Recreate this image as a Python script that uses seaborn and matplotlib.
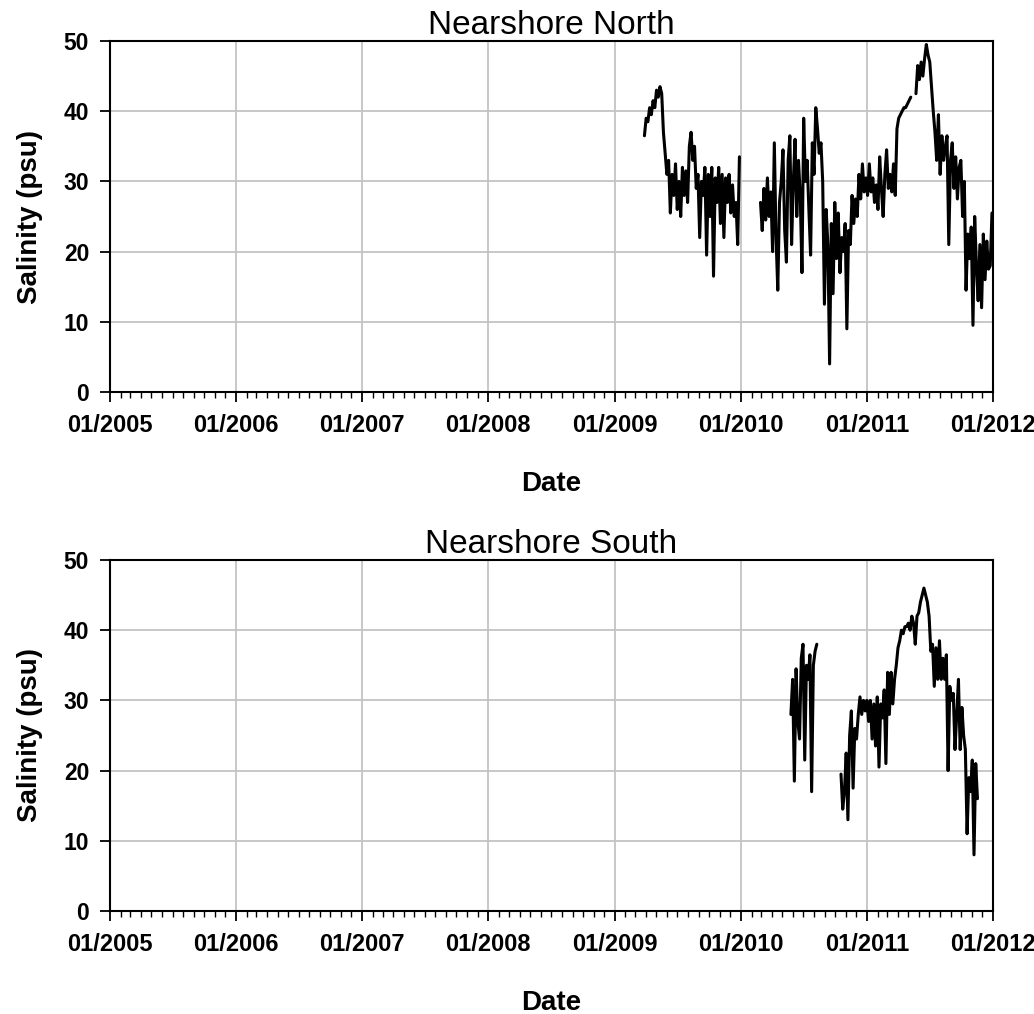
import numpy as np
import pandas as pd
import matplotlib
matplotlib.use("Agg")
import matplotlib.pyplot as plt
import matplotlib.dates as mdates
import matplotlib.transforms as mtransforms
import seaborn as sns

# ---------------- data (one value every 5 days) ----------------
step_days = 5

north_a_start = "2009-03-28"
north_a = [36.5, 39, 38.5, 40.5, 39.5, 41.5, 40.5, 43, 42, 43.5,
           42.5, 37, 34, 31, 33, 25.5, 31, 28, 32.5, 26,
           30, 25, 32, 28, 31.5, 27, 35, 37, 33, 35,
           29, 31, 22, 30, 28, 32, 19.5, 31, 25, 32,
           16.5, 30.5, 27, 32, 24, 31, 22, 30.5, 27, 31,
           25.5, 29.5, 25, 27, 21, 33.5]

north_b1_start = "2010-02-27"
north_b1 = [27, 23, 29, 24.5, 30.5, 25, 28.5, 20, 35.5, 22,
            14.5, 27, 30, 34.5, 23, 18.5, 33, 36.5, 21, 30,
            36, 25, 33, 28, 17, 39, 30, 33, 26, 19.5,
            35.5, 31, 40.5, 37.5, 34, 35.5, 30, 12.5, 26, 21,
            4, 24, 14, 27, 19, 25.5, 17, 22, 20, 24,
            9, 23, 21, 28, 24, 27.5, 25, 31, 27.5, 32.5,
            28.5, 30.5,
            28, 32.5, 28.5, 30.5, 27, 29.5, 26, 33.5, 29, 25,
            31, 34.5, 29, 31, 28.5, 32.5, 28, 37.5, 39, 39.5,
            40, 40.5, 40.5, 41, 41.5, 42]

north_b2_start = "2011-05-23"
north_b2 = [42.5, 46.5,
            44.5, 47, 45, 47.5, 49.5, 48, 47, 43.5, 40, 37,
            33, 39.5, 31, 36.5, 33, 35, 36.5, 21, 33, 35.5,
            29, 33.5, 27.5, 32, 33, 25, 30, 14.5, 22.5, 19,
            23.5, 9.5, 25, 18, 13, 21, 12, 22.5, 16, 21.5,
            17.5, 18, 25.5]

south_c_start = "2010-05-26"
south_c = [28, 33, 18.5, 34.5, 27, 24.5, 36, 38, 21.5, 35,
           33, 36.5, 17, 35, 37, 38]

south_d_start = "2010-10-18"
south_d = [19.5, 14.5, 17, 22.5, 13, 25, 28.5, 17.5, 26, 24.5,
           28, 30.5, 28, 30, 28.5,
           30, 27, 30, 24.5, 29.5, 23.5, 30.5, 20.5, 29.5, 27.5,
           31.5, 21, 34, 28, 34, 29.5, 33, 35, 37.5, 38.5,
           40, 39.5, 40.5, 40.5, 41, 40, 42, 41, 38, 42,
           42.5, 44, 45, 46, 45, 44, 42, 37, 38, 32,
           37.5, 33, 38.5, 33, 36, 33, 36.5, 20, 32, 30,
           31, 23, 28, 33, 23, 29, 25, 23, 11, 19,
           17, 21.5, 8, 21, 16]

titles = ["Nearshore North", "Nearshore South"]
x_tick_dates = ["2005-01-01", "2006-01-01", "2007-01-01", "2008-01-01",
                "2009-01-01", "2010-01-01", "2011-01-01", "2012-01-01"]
x_tick_labels = ["01/2005", "01/2006", "01/2007", "01/2008",
                 "01/2009", "01/2010", "01/2011", "01/2012"]
y_ticks = [0, 10, 20, 30, 40, 50]


def seg_frame(start, values, seg_id):
    dates = pd.date_range(start, periods=len(values), freq=f"{step_days}D")
    return pd.DataFrame({"date": dates, "salinity": values, "segment": seg_id})


north = pd.concat([seg_frame(north_a_start, north_a, 0),
                   seg_frame(north_b1_start, north_b1, 1),
                   seg_frame(north_b2_start, north_b2, 2)], ignore_index=True)
south = pd.concat([seg_frame(south_c_start, south_c, 0),
                   seg_frame(south_d_start, south_d, 1)], ignore_index=True)

# ---------------- style ----------------
sns.set_theme(style="ticks")
plt.rcParams["font.family"] = ["Liberation Sans", "DejaVu Sans"]
plt.rcParams["text.color"] = "black"
plt.rcParams["axes.labelcolor"] = "black"
plt.rcParams["xtick.color"] = "black"
plt.rcParams["ytick.color"] = "black"

W, H = 1034, 1014
fig = plt.figure(figsize=(W / 100, H / 100), dpi=100)

axes_px = [(110, 41, 993, 392), (110, 560, 993, 911)]
xt = pd.to_datetime(x_tick_dates)
shift = mtransforms.ScaledTranslation(-6 / 100, 0, fig.dpi_scale_trans)

for (x0, y0, x1, y1), df, title in zip(axes_px, [north, south], titles):
    ax = fig.add_axes([x0 / W, 1 - y1 / H, (x1 - x0) / W, (y1 - y0) / H])
    sns.lineplot(data=df, x="date", y="salinity", units="segment", estimator=None,
                 color="black", linewidth=2.2, ax=ax, legend=False, zorder=3)
    ax.set_xlim(xt[0], xt[-1])
    ax.set_ylim(0, 50)
    ax.set_xticks(xt)
    ax.set_xticklabels(x_tick_labels, fontsize=17, fontweight="bold", color="black")
    for lbl in ax.get_xticklabels():
        lbl.set_transform(lbl.get_transform() + shift)
    ax.xaxis.set_minor_locator(mdates.MonthLocator())
    ax.set_yticks(y_ticks)
    ax.set_yticklabels([str(v) for v in y_ticks], fontsize=16.5, fontweight="bold",
                       color="black")
    ax.grid(True, which="major", axis="both", color="#c4c4c4", linewidth=1.3, zorder=0)
    ax.tick_params(axis="x", which="major", direction="out", length=7, width=1.3,
                   pad=9, colors="black")
    ax.tick_params(axis="x", which="minor", direction="out", length=4.5, width=1.0,
                   colors="black")
    ax.tick_params(axis="y", which="major", direction="out", length=7, width=1.3,
                   pad=8, colors="black")
    for sp in ax.spines.values():
        sp.set_visible(True)
        sp.set_color("black")
        sp.set_linewidth(1.5)
    ax.set_title(title, fontsize=24, pad=5, color="black")
    ax.set_xlabel("Date", fontsize=20, fontweight="bold", labelpad=24, color="black")
    ax.set_ylabel("Salinity (psu)", fontsize=20, fontweight="bold", labelpad=15,
                  color="black")

fig.savefig("out.png", dpi=100)
